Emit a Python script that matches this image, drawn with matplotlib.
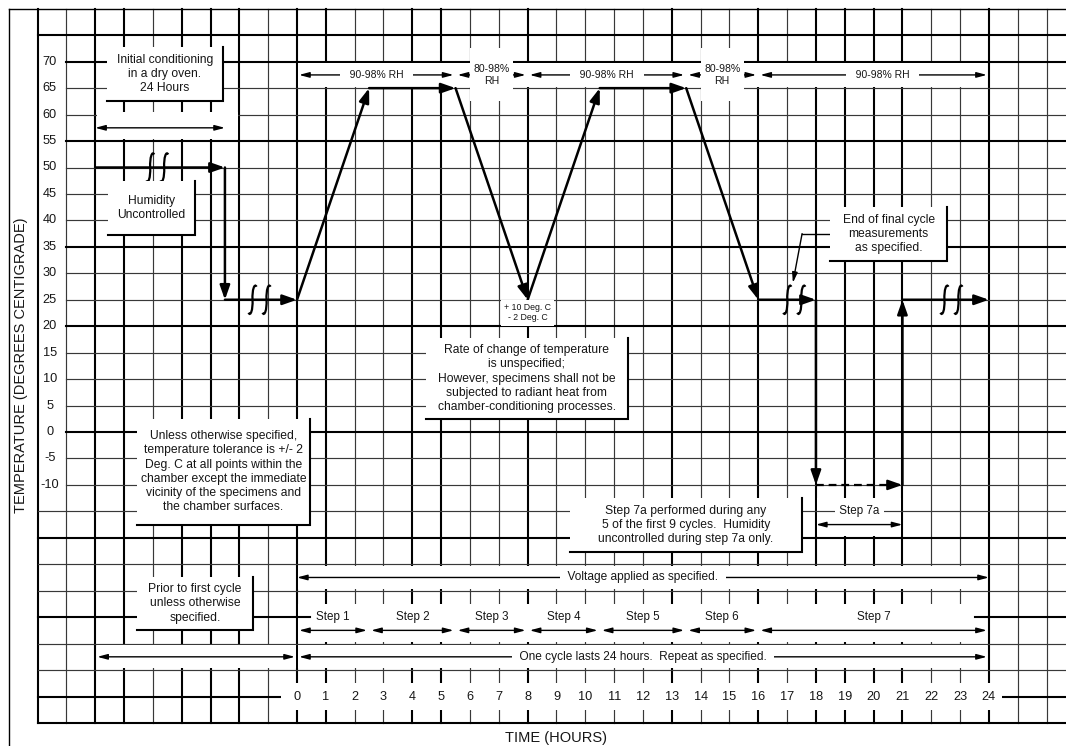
import matplotlib
matplotlib.use("Agg")

import matplotlib.pyplot as plt
from matplotlib.patches import Rectangle, FancyArrowPatch, PathPatch
from matplotlib.path import Path

plt.rcParams['font.family'] = ['Liberation Sans', 'DejaVu Sans']


# grid of the chart paper (hours across, degrees C up)
hours_grid = list(range(-9, 27))
temps_grid = list(range(-55, 80, 5))
thick_hours = [-9, -7, -6, -4, -3, -2, 0, 1, 4, 5, 8, 13, 16, 18, 19, 20, 21, 24]
thick_temps = [75, 70, 55, 35, 20, 0, -20, -35, -50, -55]

temp_ticks = list(range(70, -15, -5))
hour_ticks = list(range(0, 25))

# temperature profile, every segment ends in an arrow head
profile_t = [-7, -2.5, -2.5, 0, 2.5, 5.5, 8, 10.5, 13.5, 16, 18, 18, 21, 21, 24]
profile_T = [50, 50, 25, 25, 65, 65, 25, 65, 65, 25, 25, -10, -10, 25, 25]
dashed_segments = [11]

# "time break" marks on the profile
break_t = [-4.85, -1.3, 17.25, 22.7]
break_T = [50, 25, 25, 25]

rh_edges = [0, 5.5, 8, 13.5, 16, 24]
rh_labels = ["90-98% RH", "80-98%\nRH", "90-98% RH", "80-98%\nRH", "90-98% RH"]
rh_label_t = [2.75, 6.75, 10.75, 14.75, 20.3]

step_edges = [0, 2.5, 5.5, 8, 10.5, 13.5, 16, 24]
step_labels = ["Step 1", "Step 2", "Step 3", "Step 4", "Step 5", "Step 6", "Step 7"]

step7a_edges = [18, 21]
initial_edges = [-7, -2.5]
cycle_edges = [-7, 0, 24]

note_texts = [
    "Initial conditioning\nin a dry oven.\n24 Hours",
    "Humidity\nUncontrolled",
    "Unless otherwise specified,\ntemperature tolerance is +/- 2\nDeg. C at all points within the\n"
    "chamber except the immediate\nvicinity of the specimens and\nthe chamber surfaces.",
    "Rate of change of temperature\nis unspecified;\nHowever, specimens shall not be\n"
    "subjected to radiant heat from\nchamber-conditioning processes.",
    "Prior to first cycle\nunless otherwise\nspecified.",
    "End of final cycle\nmeasurements\nas specified.",
    "Step 7a performed during any\n5 of the first 9 cycles.  Humidity\nuncontrolled during step 7a only.",
]

# layout: box corners (left, right, bottom, top) in hours / degrees
note_boxes = [
    (-6.6, -2.57, 62.6, 72.7),
    (-6.56, -3.54, 37.3, 47.5),
    (-5.55, 0.45, -17.6, 2.55),
    (4.47, 11.48, 2.45, 17.7),
    (-5.55, -1.53, -37.4, -27.4),
    (18.49, 22.55, 32.4, 42.5),
    (9.47, 17.52, -22.6, -12.5),
]

PX_H = 28.83     # pixels per hour
PX_D = 5.29      # pixels per degree
X0 = 297         # pixel column of hour 0
Y70 = 61.7       # pixel row of 70 deg

xmin = -X0 / PX_H
xmax = (1066 - X0) / PX_H
ymax = 70 + Y70 / PX_D
ymin = 70 - (746 - Y70) / PX_D

TXT = "#161616"
GRAY = "#383838"

fig = plt.figure(figsize=(10.66, 7.46), dpi=100)
ax = fig.add_axes([0, 0, 1, 1])
ax.set_xlim(xmin, xmax)
ax.set_ylim(ymin, ymax)
ax.axis("off")


def blank(t0, t1, T0, T1, z=2):
    ax.add_patch(Rectangle((t0, T0), t1 - t0, T1 - T0,
                           facecolor="white", edgecolor="none", zorder=z))


def arrow(p0, p1, style="-|>", hl=6, hw=1.6, lw=1.0, shrink=0, z=4):
    ax.add_patch(FancyArrowPatch(
        p0, p1,
        arrowstyle=f"{style},head_length={hl},head_width={hw}",
        mutation_scale=1, lw=lw, color="black",
        shrinkA=shrink, shrinkB=shrink, zorder=z))


def gap_label(t, T, s, size, pad="  "):
    ax.text(t, T, pad + s + pad, ha="center", va="center",
            fontsize=size, color=TXT, zorder=6,
            bbox=dict(boxstyle="square,pad=0.1", fc="white", ec="none"))


def squiggle(tc, Tc):
    shape = [(4, 13), (2, 17), (-0.5, 10), (0, 0), (0.5, -10), (-2, -17), (-4, -13)]
    codes = [Path.MOVETO] + [Path.CURVE4] * 6
    for off in (-7, 7):
        verts = [(tc + (x + off) / PX_H, Tc + y / PX_D) for x, y in shape]
        ax.add_patch(PathPatch(Path(verts, codes), fc="none",
                               ec="black", lw=1.6, zorder=5))


# chart paper
for t in hours_grid:
    thick = t in thick_hours
    ax.plot([t, t], [-55, 80],
            color="black" if thick else GRAY,
            lw=1.5 if thick else 0.85, zorder=1)

for T in temps_grid:
    thick = T in thick_temps
    start = -8 if T in temp_ticks else -9
    ax.plot([start, xmax], [T, T],
            color="black" if thick else GRAY,
            lw=1.5 if thick else 0.85, zorder=1)

ax.plot([-10, -10], [ymin, 80], color="black", lw=1.0, zorder=1)
ax.plot([-10, xmax], [80, 80], color="black", lw=1.0, zorder=1)

# cleared bands of the paper
di = 0.05
dT = 0.3
blank(0 + di, 24 - di, 65 + dT, 70 - dT)
blank(-7 + di, -2 - di, 55 + dT, 60.4)
blank(0 + di, 24 - di, -30 + dT, -25 - dT)
blank(0 + di, 24 - di, -40 + dT, -32.5)
blank(-7 + di, 0 - di, -45 + dT, -40 - dT)
blank(0 + di, 24 - di, -45 + dT, -40 - dT)
blank(-0.55, 24.45, -52.5, -47.5)
blank(step7a_edges[0] + di, step7a_edges[1] - di, -20 + dT, -12.5)

ax.plot([0, 0.45], [-35, -35], color="black", lw=1.5, zorder=3)
ax.plot([23.5, 24], [-35, -35], color="black", lw=1.5, zorder=3)
ax.plot(step7a_edges, [-15, -15], color=GRAY, lw=0.85, zorder=3)

# temperature profile
for i in range(len(profile_t) - 1):
    p0 = (profile_t[i], profile_T[i])
    p1 = (profile_t[i + 1], profile_T[i + 1])
    if i in dashed_segments:
        ax.plot([p0[0], p1[0] - 0.3], [p0[1], p1[1]], color="black",
                lw=1.6, ls=(0, (3.5, 2.2)), zorder=4)
        arrow((p1[0] - 0.4, p1[1]), p1, hl=8.5, hw=3, lw=1.6)
    else:
        arrow(p0, p1, hl=8.5, hw=3, lw=1.8)

for t, T in zip(break_t, break_T):
    squiggle(t, T)

# relative humidity zones
for i, lab in enumerate(rh_labels):
    arrow((rh_edges[i], 67.5), (rh_edges[i + 1], 67.5), "<|-|>", shrink=1.5)
    if "\n" in lab:
        blank(rh_edges[i] + 0.5, rh_edges[i + 1] - 0.5, 62.5, 72.5, z=4.5)
        ax.text(rh_label_t[i], 67.5, lab, ha="center", va="center",
                fontsize=7.6, linespacing=1.3, color=TXT, zorder=6)
    else:
        gap_label(rh_label_t[i], 67.5, lab, 7.5, pad="   ")

# initial conditioning span
arrow((initial_edges[0], 57.5), (initial_edges[1], 57.5), "<|-|>")

# steps
for i, lab in enumerate(step_labels):
    arrow((step_edges[i], -37.5), (step_edges[i + 1], -37.5), "<|-|>", shrink=1.5)
    ax.text((step_edges[i] + step_edges[i + 1]) / 2, -35, lab,
            ha="center", va="center", fontsize=8.4, color=TXT, zorder=6)

arrow((step_edges[0], -27.5), (step_edges[-1], -27.5), "<|-|>")
gap_label(12, -27.5, "Voltage applied as specified.", 8.6)

arrow((cycle_edges[0], -42.5), (cycle_edges[1], -42.5), "<|-|>", shrink=1.5)
arrow((cycle_edges[1], -42.5), (cycle_edges[2], -42.5), "<|-|>", shrink=1.5)
gap_label(12, -42.5, "One cycle lasts 24 hours.  Repeat as specified.", 8.6)

# step 7a
arrow((step7a_edges[0], -17.5), (step7a_edges[1], -17.5), "<|-|>")
gap_label(sum(step7a_edges) / 2, -15, "Step 7a", 8.4, pad=" ")

# tolerance at the bottom of the cycle
ax.text(8, 22.5, "+ 10 Deg. C\n- 2 Deg. C", ha="center", va="center",
        fontsize=6.3, linespacing=1.15, color=TXT, zorder=6,
        bbox=dict(boxstyle="square,pad=0.35", fc="white", ec="none"))

# notes with shadow edges
for text, (l, r, b, t) in zip(note_texts, note_boxes):
    blank(l, r, b, t, z=5)
    ax.plot([l, r, r], [b, b, t], color="black", lw=1.5, zorder=5.1,
            solid_joinstyle="miter")
    ax.text((l + r) / 2, (b + t) / 2, text, ha="center", va="center",
            fontsize=8.7, linespacing=1.25, color=TXT, zorder=6)

# leader to the end of final cycle
ax.plot([18.49, 17.52], [37.5, 37.5], color="black", lw=1.0, zorder=4)
arrow((17.52, 37.5), (17.2, 28.2))

# tick labels
for T in temp_ticks:
    ax.text(-8.57, T, str(T), ha="center", va="center",
            fontsize=9.2, color=TXT, zorder=6)

for t in hour_ticks:
    ax.text(t, -50, str(t), ha="center", va="center",
            fontsize=9.2, color=TXT, zorder=6)

ax.text(-9.57, 12.7, "TEMPERATURE (DEGREES CENTIGRADE)", rotation=90,
        ha="center", va="center", fontsize=10.5, color=TXT)
ax.text(9.0, -57.8, "TIME (HOURS)", ha="center", va="center",
        fontsize=10.5, color=TXT)

fig.savefig("out.png", dpi=100)
